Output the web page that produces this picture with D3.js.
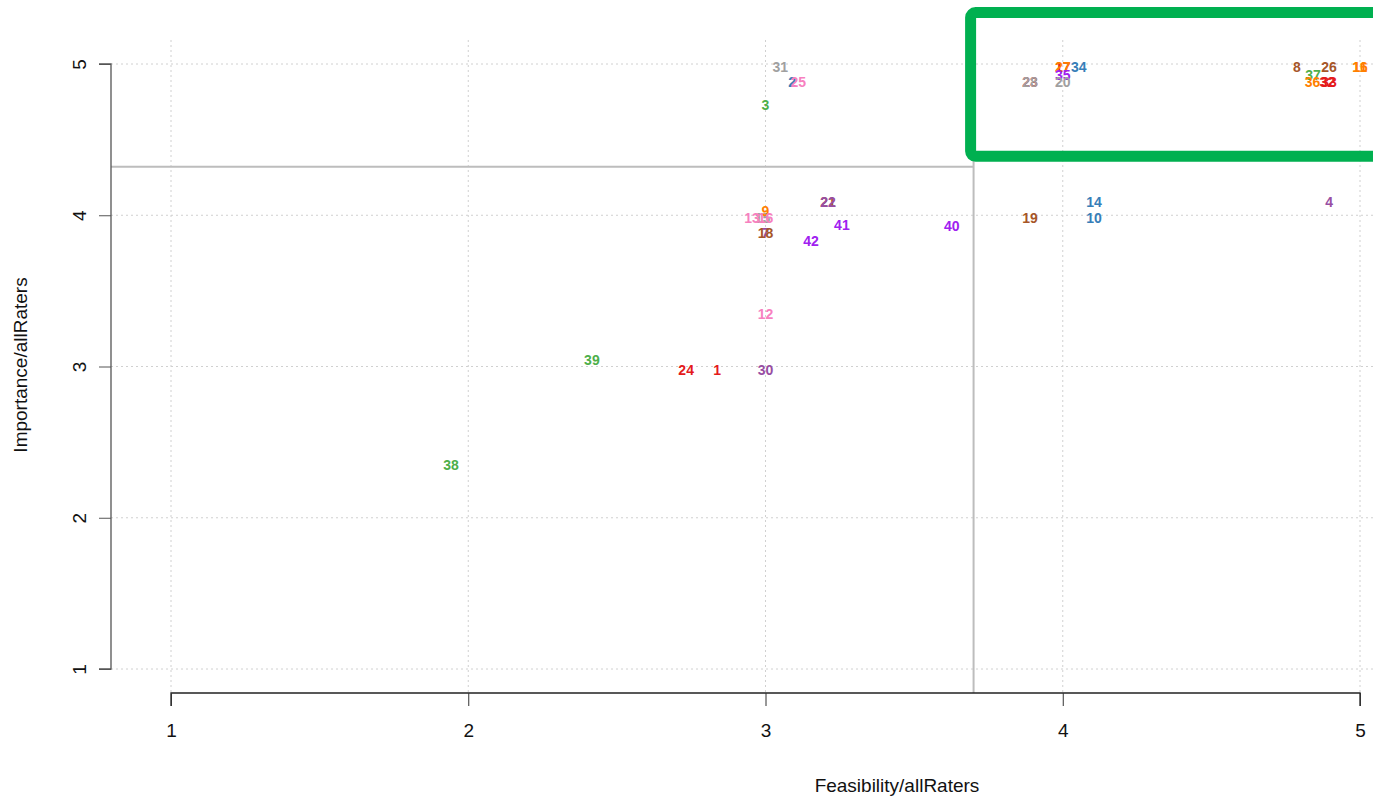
<!DOCTYPE html>
<html><head><meta charset="utf-8">
<script src="https://cdn.jsdelivr.net/npm/d3@7"></script>
<style>body{margin:0;background:#fff}svg{display:block}</style>
</head><body>
<script>
// hidden (overlapped) labels come first so visible ones are drawn on top
const labels = ["17","2","23","11","32","15","7","21","31","25","3","27","34","35","20","28","8","26","16","37","36","33","9","13","16b","18","22","41","42","40","19","14","10","4","12","39","24","1","30","38"];
const feasibility = [4.0,3.09,3.89,5.0,4.89,2.99,3.0,3.21,3.05,3.11,3.0,4.0,4.054,4.0,4.0,3.89,4.788,4.896,5.0,4.842,4.84,4.896,3.0,2.955,3.0,3.0,3.21,3.257,3.153,3.627,3.89,4.105,4.105,4.896,3.0,2.416,2.733,2.837,3.0,1.942];
const importance = [5.0,4.9,4.9,5.0,4.9,4.0,3.9,4.11,5.0,4.9,4.75,5.0,5.0,4.95,4.9,4.9,5.0,5.0,5.0,4.95,4.9,4.9,4.05,4.0,4.0,3.9,4.11,3.955,3.85,3.95,4.0,4.11,4.0,4.11,3.37,3.06,3.0,3.0,3.0,2.37];
const colors = ["#e41a1c","#377eb8","#e41a1c","#ff7f00","#e41a1c","#a0a0a0","#984ea3","#a65628","#a0a0a0","#f781bf","#4daf4a","#ff7f00","#377eb8","#a020f0","#a0a0a0","#a0a0a0","#a65628","#a65628","#ff7f00","#4daf4a","#ff7f00","#e41a1c","#ff7f00","#f781bf","#f781bf","#a65628","#984ea3","#a020f0","#a020f0","#a020f0","#a65628","#377eb8","#377eb8","#984ea3","#f781bf","#4daf4a","#e41a1c","#e41a1c","#984ea3","#4daf4a"];
const xTicks = [1,2,3,4,5];
const yTicks = [1,2,3,4,5];
const cutFeasibility = 3.70;
const cutImportance = 4.32;
const highlight = {x0: 3.69, x1: 5.2, y0: 4.39, y1: 5.34};

const W = 1373, H = 796;
const svg = d3.select("body").append("svg").attr("width", W).attr("height", H);
const x = d3.scaleLinear().domain([1,5]).range([171,1360]);
const y = d3.scaleLinear().domain([1,5]).range([669,64]);
const plotLeft = 111, plotRight = W, plotTop = 40, plotBottom = 693;
const FONT = "Liberation Sans, Arial, sans-serif";

// grid
const grid = svg.append("g").attr("stroke","#d0d0d0").attr("stroke-dasharray","2,3").attr("stroke-width",1);
xTicks.forEach(t => grid.append("line").attr("x1",x(t)).attr("x2",x(t)).attr("y1",plotTop).attr("y2",plotBottom));
yTicks.forEach(t => grid.append("line").attr("x1",plotLeft).attr("x2",plotRight).attr("y1",y(t)).attr("y2",y(t)));

// cut lines
svg.append("line").attr("x1",x(cutFeasibility)).attr("x2",x(cutFeasibility)).attr("y1",plotTop).attr("y2",plotBottom)
  .attr("stroke","#bdbdbd").attr("stroke-width",2);
svg.append("line").attr("x1",plotLeft).attr("x2",x(cutFeasibility)).attr("y1",y(cutImportance)).attr("y2",y(cutImportance))
  .attr("stroke","#bdbdbd").attr("stroke-width",2);

// axes
const xAxis = d3.axisBottom(x).tickValues(xTicks).tickSize(13).tickPadding(18).tickFormat(d3.format("d"));
const gx = svg.append("g").attr("transform",`translate(0,${plotBottom})`).call(xAxis);
gx.select(".domain").attr("d",`M${x(1)},13V0H${x(5)}V13`).attr("stroke","#222").attr("stroke-width",1.3);
gx.selectAll(".tick line").attr("stroke","#333");
gx.selectAll(".tick text").attr("font-family",FONT).attr("font-size",19).attr("fill","#111");

const yAxis = d3.axisLeft(y).tickValues(yTicks).tickSize(12).tickPadding(0).tickFormat(d3.format("d"));
const gy = svg.append("g").attr("transform",`translate(${plotLeft},0)`).call(yAxis);
gy.select(".domain").attr("d",`M-12,${y(1)}H0V${y(5)}H-12`).attr("stroke","#555").attr("stroke-width",1.3);
gy.selectAll(".tick line").attr("stroke","#555");
gy.selectAll(".tick text").attr("font-family",FONT).attr("font-size",19).attr("fill","#111")
  .attr("x",0).attr("dy",null).attr("text-anchor","middle").attr("dominant-baseline","central")
  .attr("transform","translate(-32,0) rotate(-90)");

// titles
svg.append("text").attr("x",897).attr("y",792).attr("text-anchor","middle")
  .attr("font-family",FONT).attr("font-size",19).attr("fill","#111").text("Feasibility/allRaters");
svg.append("text").attr("transform","translate(27,365) rotate(-90)").attr("text-anchor","middle")
  .attr("font-family",FONT).attr("font-size",19).attr("fill","#111").text("Importance/allRaters");

// labels
const pts = labels.map((l,i)=>({l:l.replace("b",""),x:feasibility[i],y:importance[i],c:colors[i]}));
svg.append("g").selectAll("text").data(pts).join("text")
  .attr("x",d=>x(d.x)).attr("y",d=>y(d.y)+3)
  .attr("text-anchor","middle").attr("dominant-baseline","central")
  .attr("font-family",FONT).attr("font-weight","bold").attr("font-size",14)
  .attr("fill",d=>d.c).text(d=>d.l);

// highlight box
svg.append("rect").attr("x",x(highlight.x0)).attr("y",y(highlight.y1))
  .attr("width",x(highlight.x1)-x(highlight.x0)).attr("height",y(highlight.y0)-y(highlight.y1))
  .attr("rx",5).attr("fill","none").attr("stroke","#00b050").attr("stroke-width",11);
</script>
</body></html>
